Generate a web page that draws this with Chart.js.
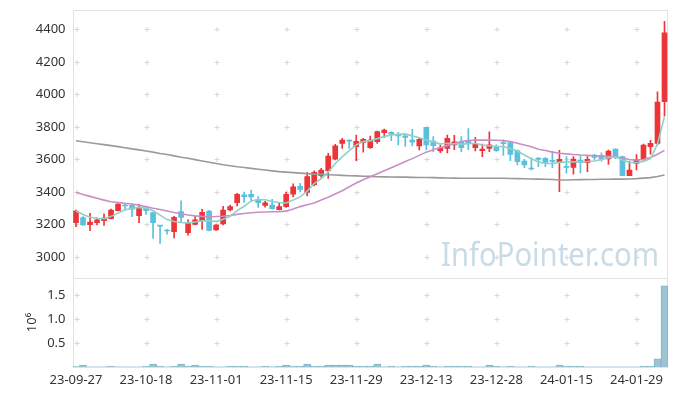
<!DOCTYPE html>
<html>
<head>
<meta charset="utf-8">
<script src="https://cdn.jsdelivr.net/npm/chart.js@4.4.0/dist/chart.umd.min.js"></script>
<style>
  html, body { margin: 0; padding: 0; background: #ffffff; }
  #chart { display: block; }
</style>
</head>
<body>
<canvas id="chart" width="677" height="396"></canvas>
<script>
(function () {
    'use strict';

    // ============================================================================
    // DATA
    // ============================================================================

    var dates = [
        '23-09-27', '23-10-04', '23-10-05', '23-10-06', '23-10-10', '23-10-11', '23-10-12', '23-10-13', '23-10-16', '23-10-17',
        '23-10-18', '23-10-19', '23-10-20', '23-10-23', '23-10-24', '23-10-25', '23-10-26', '23-10-27', '23-10-30', '23-10-31',
        '23-11-01', '23-11-02', '23-11-03', '23-11-06', '23-11-07', '23-11-08', '23-11-09', '23-11-10', '23-11-13', '23-11-14',
        '23-11-15', '23-11-16', '23-11-17', '23-11-20', '23-11-21', '23-11-22', '23-11-23', '23-11-24', '23-11-27', '23-11-28',
        '23-11-29', '23-11-30', '23-12-01', '23-12-04', '23-12-05', '23-12-06', '23-12-07', '23-12-08', '23-12-11', '23-12-12',
        '23-12-13', '23-12-14', '23-12-15', '23-12-18', '23-12-19', '23-12-20', '23-12-21', '23-12-22', '23-12-26', '23-12-27',
        '23-12-28', '24-01-02', '24-01-03', '24-01-04', '24-01-05', '24-01-08', '24-01-09', '24-01-10', '24-01-11', '24-01-12',
        '24-01-15', '24-01-16', '24-01-17', '24-01-18', '24-01-19', '24-01-22', '24-01-23', '24-01-24', '24-01-25', '24-01-26',
        '24-01-29', '24-01-30', '24-01-31', '24-02-01', '24-02-02'
    ];

    var opens = [
        3211, 3242, 3199, 3211, 3223, 3236, 3285, 3318, 3318, 3254,
        3303, 3273, 3195, 3165, 3156, 3279, 3150, 3201, 3223, 3283,
        3166, 3203, 3289, 3334, 3383, 3385, 3355, 3318, 3320, 3291,
        3310, 3387, 3434, 3398, 3445, 3500, 3531, 3601, 3699, 3719,
        3678, 3705, 3672, 3709, 3764, 3767, 3750, 3746, 3719, 3683,
        3797, 3713, 3652, 3668, 3690, 3705, 3715, 3672, 3654, 3668,
        3676, 3703, 3703, 3654, 3590, 3545, 3609, 3607, 3592, 3580,
        3557, 3551, 3596, 3580, 3627, 3625, 3603, 3664, 3617, 3500,
        3576, 3601, 3678, 3699, 3955
    ];

    var highs = [
        3289, 3248, 3268, 3240, 3265, 3295, 3328, 3326, 3326, 3324,
        3310, 3273, 3195, 3170, 3250, 3346, 3228, 3250, 3293, 3287,
        3200, 3312, 3320, 3392, 3400, 3412, 3371, 3342, 3355, 3330,
        3400, 3450, 3453, 3521, 3530, 3545, 3638, 3693, 3730, 3720,
        3750, 3730, 3744, 3775, 3787, 3770, 3767, 3748, 3785, 3730,
        3797, 3740, 3690, 3750, 3748, 3740, 3790, 3736, 3695, 3770,
        3690, 3720, 3710, 3658, 3600, 3610, 3612, 3611, 3650, 3656,
        3618, 3617, 3621, 3617, 3632, 3640, 3658, 3666, 3620, 3590,
        3630, 3695, 3717, 4016, 4450
    ];

    var lows = [
        3186, 3195, 3162, 3198, 3195, 3234, 3283, 3290, 3248, 3211,
        3262, 3115, 3084, 3140, 3117, 3217, 3135, 3197, 3170, 3160,
        3164, 3197, 3283, 3314, 3338, 3342, 3305, 3307, 3295, 3289,
        3305, 3370, 3400, 3375, 3437, 3490, 3484, 3597, 3668, 3668,
        3592, 3644, 3668, 3699, 3736, 3715, 3690, 3680, 3683, 3658,
        3658, 3648, 3642, 3640, 3660, 3648, 3660, 3652, 3617, 3648,
        3650, 3625, 3592, 3566, 3550, 3535, 3555, 3555, 3550, 3402,
        3515, 3510, 3517, 3525, 3598, 3590, 3570, 3605, 3500, 3500,
        3535, 3596, 3633, 3690, 3868
    ];

    var closes = [
        3283, 3197, 3215, 3229, 3240, 3289, 3326, 3314, 3295, 3303,
        3285, 3211, 3190, 3160, 3244, 3244, 3207, 3228, 3275, 3164,
        3197, 3289, 3310, 3385, 3371, 3369, 3334, 3334, 3297, 3310,
        3385, 3432, 3416, 3494, 3521, 3535, 3621, 3683, 3719, 3713,
        3711, 3724, 3719, 3771, 3781, 3755, 3744, 3736, 3707, 3724,
        3689, 3685, 3672, 3730, 3709, 3672, 3697, 3695, 3664, 3690,
        3654, 3697, 3631, 3586, 3566, 3541, 3600, 3582, 3588, 3601,
        3551, 3603, 3580, 3601, 3613, 3603, 3652, 3611, 3500, 3535,
        3601, 3689, 3699, 3953, 4379
    ];

    var volumes = [
        10000, 40000, 5000, 5000, 5000, 20000, 5000, 5000, 5000, 5000,
        20000, 60000, 20000, 5000, 20000, 60000, 20000, 40000, 20000, 20000,
        5000, 5000, 20000, 20000, 20000, 5000, 5000, 20000, 5000, 20000,
        40000, 20000, 20000, 60000, 20000, 20000, 40000, 40000, 40000, 40000,
        20000, 20000, 20000, 60000, 5000, 20000, 5000, 20000, 20000, 20000,
        40000, 20000, 5000, 20000, 20000, 20000, 20000, 5000, 5000, 40000,
        20000, 5000, 20000, 5000, 5000, 20000, 5000, 5000, 5000, 40000,
        20000, 20000, 20000, 5000, 5000, 5000, 5000, 5000, 5000, 5000,
        5000, 20000, 20000, 170000, 1690000
    ];

    // moving averages
    var ma5 = [
        3283, 3262, 3245, 3238, 3236, 3250, 3270, 3290, 3300, 3305,
        3302, 3284, 3258, 3230, 3218, 3212, 3210, 3215, 3222, 3224,
        3218, 3232, 3250, 3285, 3312, 3345, 3354, 3352, 3341, 3335,
        3332, 3350, 3370, 3405, 3452, 3482, 3522, 3575, 3616, 3654,
        3689, 3710, 3714, 3728, 3741, 3750, 3754, 3757, 3745, 3733,
        3720, 3708, 3695, 3700, 3697, 3694, 3697, 3700, 3688, 3684,
        3680, 3680, 3667, 3652, 3627, 3604, 3585, 3575, 3575, 3582,
        3584, 3585, 3585, 3587, 3590, 3600, 3610, 3616, 3596, 3582,
        3580, 3587, 3605, 3695, 3864
    ];

    var ma20 = [
        3398, 3385, 3373, 3361, 3350, 3340, 3335, 3330, 3326, 3318,
        3310, 3300, 3292, 3283, 3274, 3266, 3258, 3253, 3250, 3248,
        3249, 3251, 3255, 3262, 3268, 3272, 3275, 3277, 3278, 3279,
        3282, 3295, 3310, 3322, 3332, 3350, 3368, 3388, 3408, 3432,
        3455, 3475, 3494, 3512, 3530, 3549, 3568, 3588, 3605, 3625,
        3645, 3660, 3672, 3685, 3698, 3710, 3717, 3719, 3720, 3719,
        3718, 3716, 3710, 3700, 3689, 3678, 3663, 3655, 3645, 3638,
        3634, 3630, 3627, 3625, 3623, 3621, 3620, 3615, 3608, 3600,
        3596, 3600, 3612, 3632, 3656
    ];

    var ma120 = [
        3715, 3709, 3703, 3697, 3691, 3685, 3679, 3672, 3665, 3659,
        3652, 3645, 3637, 3630, 3622, 3614, 3607, 3599, 3591, 3583,
        3575, 3567, 3561, 3555, 3550, 3545, 3540, 3535, 3530, 3525,
        3522, 3519, 3516, 3513, 3510, 3508, 3506, 3504, 3502, 3500,
        3499, 3497, 3496, 3494, 3493, 3492, 3491, 3491, 3490, 3489,
        3489, 3488, 3487, 3486, 3485, 3484, 3484, 3484, 3484, 3484,
        3484, 3484, 3483, 3482, 3481, 3480, 3479, 3478, 3477, 3474,
        3474, 3475, 3476, 3477, 3477, 3478, 3478, 3479, 3479, 3480,
        3482, 3485, 3488, 3495, 3504
    ];

    var priceTicks = [3000, 3200, 3400, 3600, 3800, 4000, 4200, 4400];
    var volumeTicks = [500000, 1000000, 1500000];

    // ============================================================================
    // STYLE
    // ============================================================================

    var UP_COLOR = '#ec3539';
    var DOWN_COLOR = '#5bc0de';
    var TEXT_COLOR = '#333333';
    var FRAME_COLOR = '#e2e2e2';
    var CROSS_COLOR = '#d6d6d6';
    var LABEL_EVERY = 10;

    Chart.defaults.font.family = '"Noto Sans", "DejaVu Sans", sans-serif';
    Chart.defaults.font.size = 13;
    Chart.defaults.color = TEXT_COLOR;

    var candleColors = opens.map(function (o, i) {
        return closes[i] >= o ? UP_COLOR : DOWN_COLOR;
    });

    var bodies = opens.map(function (o, i) { return [o, closes[i]]; });
    var wicks = lows.map(function (l, i) { return [l, highs[i]]; });

    // ============================================================================
    // PLUGINS
    // ============================================================================

    /**
     * Panel frames and the small "+" marks where grid lines would cross
     */
    var panelPlugin = {
        id: 'panels',
        beforeDatasetsDraw: function (chart) {
            var ctx = chart.ctx;
            var area = chart.chartArea;
            var xScale = chart.scales.x;
            var left = Math.round(area.left) + 0.5;
            var right = Math.round(area.right) - 0.5;

            ctx.save();
            ['y', 'yVol'].forEach(function (id) {
                var s = chart.scales[id];
                var top = Math.round(s.top) + 0.5;
                var bottom = Math.round(s.bottom) + 0.5;

                ctx.strokeStyle = FRAME_COLOR;
                ctx.lineWidth = 1;
                ctx.strokeRect(left, top, right - left, bottom - top);

                ctx.strokeStyle = CROSS_COLOR;
                ctx.beginPath();
                s.ticks.forEach(function (t) {
                    var py = Math.round(s.getPixelForValue(t.value)) + 0.5;
                    for (var i = 0; i < dates.length; i += LABEL_EVERY) {
                        var px = Math.round(xScale.getPixelForValue(i)) + 0.5;
                        ctx.moveTo(px - 2, py);
                        ctx.lineTo(px + 3, py);
                        ctx.moveTo(px + 0.5, py - 2.5);
                        ctx.lineTo(px + 0.5, py + 2.5);
                    }
                });
                ctx.stroke();
            });
            ctx.restore();
        }
    };

    /**
     * Site watermark in the lower right of the price panel
     */
    var watermarkPlugin = {
        id: 'watermark',
        beforeDatasetsDraw: function (chart) {
            var ctx = chart.ctx;
            var s = chart.scales.y;
            ctx.save();
            ctx.font = '33px "Noto Sans", sans-serif';
            ctx.fillStyle = '#c9dbe6';
            ctx.textAlign = 'right';
            ctx.textBaseline = 'alphabetic';
            ctx.fillText('InfoPointer.com', chart.chartArea.right - 9, s.bottom - 12, 218);
            ctx.restore();
        }
    };

    // ============================================================================
    // CHART
    // ============================================================================

    function fixWidth(scale) {
        scale.width = 72.5;
        scale.paddingTop = 0;
        scale.paddingBottom = 0;
    }

    function keepTicks(values) {
        return function (scale) {
            scale.ticks = values.map(function (v) { return { value: v }; });
        };
    }

    new Chart(document.getElementById('chart'), {
        type: 'bar',
        data: {
            labels: dates,
            datasets: [
                {
                    type: 'line', label: 'MA5', data: ma5, yAxisID: 'y', order: 1,
                    borderColor: '#8fd1c6', borderWidth: 1.6, pointRadius: 0, fill: false
                },
                {
                    type: 'line', label: 'MA20', data: ma20, yAxisID: 'y', order: 2,
                    borderColor: '#c98fc6', borderWidth: 1.6, pointRadius: 0, fill: false
                },
                {
                    type: 'line', label: 'MA120', data: ma120, yAxisID: 'y', order: 3,
                    borderColor: '#9a9a9a', borderWidth: 1.6, pointRadius: 0, fill: false
                },
                {
                    label: 'Body', data: bodies, yAxisID: 'y', order: 4, grouped: false,
                    backgroundColor: candleColors, borderWidth: 0,
                    barThickness: 5, minBarLength: 1
                },
                {
                    label: 'Wick', data: wicks, yAxisID: 'y', order: 5, grouped: false,
                    backgroundColor: candleColors, borderWidth: 0,
                    barThickness: 1
                },
                {
                    label: 'Volume', data: volumes, yAxisID: 'yVol', order: 6, grouped: false,
                    backgroundColor: '#9dc4d3', borderColor: '#84b3c6', borderWidth: 1,
                    barPercentage: 1, categoryPercentage: 1
                }
            ]
        },
        options: {
            responsive: false,
            animation: false,
            devicePixelRatio: 1,
            layout: { padding: { top: 10, right: 9, bottom: 0, left: 0 } },
            plugins: {
                legend: { display: false },
                tooltip: { enabled: false }
            },
            scales: {
                x: {
                    type: 'category',
                    offset: true,
                    grid: { display: false, drawTicks: false },
                    border: { display: false },
                    ticks: {
                        autoSkip: false,
                        maxRotation: 0,
                        padding: 5,
                        color: TEXT_COLOR,
                        callback: function (value, index) {
                            return index % LABEL_EVERY === 0 ? this.getLabelForValue(value) : '';
                        }
                    },
                    afterFit: function (scale) {
                        scale.height = 29;
                        scale.paddingLeft = 0;
                        scale.paddingRight = 0;
                    }
                },
                y: {
                    type: 'linear',
                    position: 'left',
                    stack: 'panels',
                    stackWeight: 268,
                    weight: 1,
                    min: 2871,
                    max: 4519,
                    grid: { display: false, drawTicks: false },
                    border: { display: false },
                    ticks: {
                        padding: 7,
                        color: TEXT_COLOR,
                        callback: function (value) { return String(value); }
                    },
                    afterBuildTicks: keepTicks(priceTicks),
                    afterFit: fixWidth
                },
                yVol: {
                    type: 'linear',
                    position: 'left',
                    stack: 'panels',
                    stackWeight: 89,
                    weight: 0,
                    min: 0,
                    max: 1854000,
                    grid: { display: false, drawTicks: false },
                    border: { display: false },
                    title: {
                        display: true,
                        text: '10\u2076',
                        color: TEXT_COLOR,
                        font: { size: 13 },
                        padding: { top: 24, bottom: 0 }
                    },
                    ticks: {
                        padding: 7,
                        color: TEXT_COLOR,
                        callback: function (value) { return (value / 1000000).toFixed(1); }
                    },
                    afterBuildTicks: keepTicks(volumeTicks),
                    afterFit: fixWidth
                }
            }
        },
        plugins: [panelPlugin, watermarkPlugin]
    });
})();
</script>
</body>
</html>
